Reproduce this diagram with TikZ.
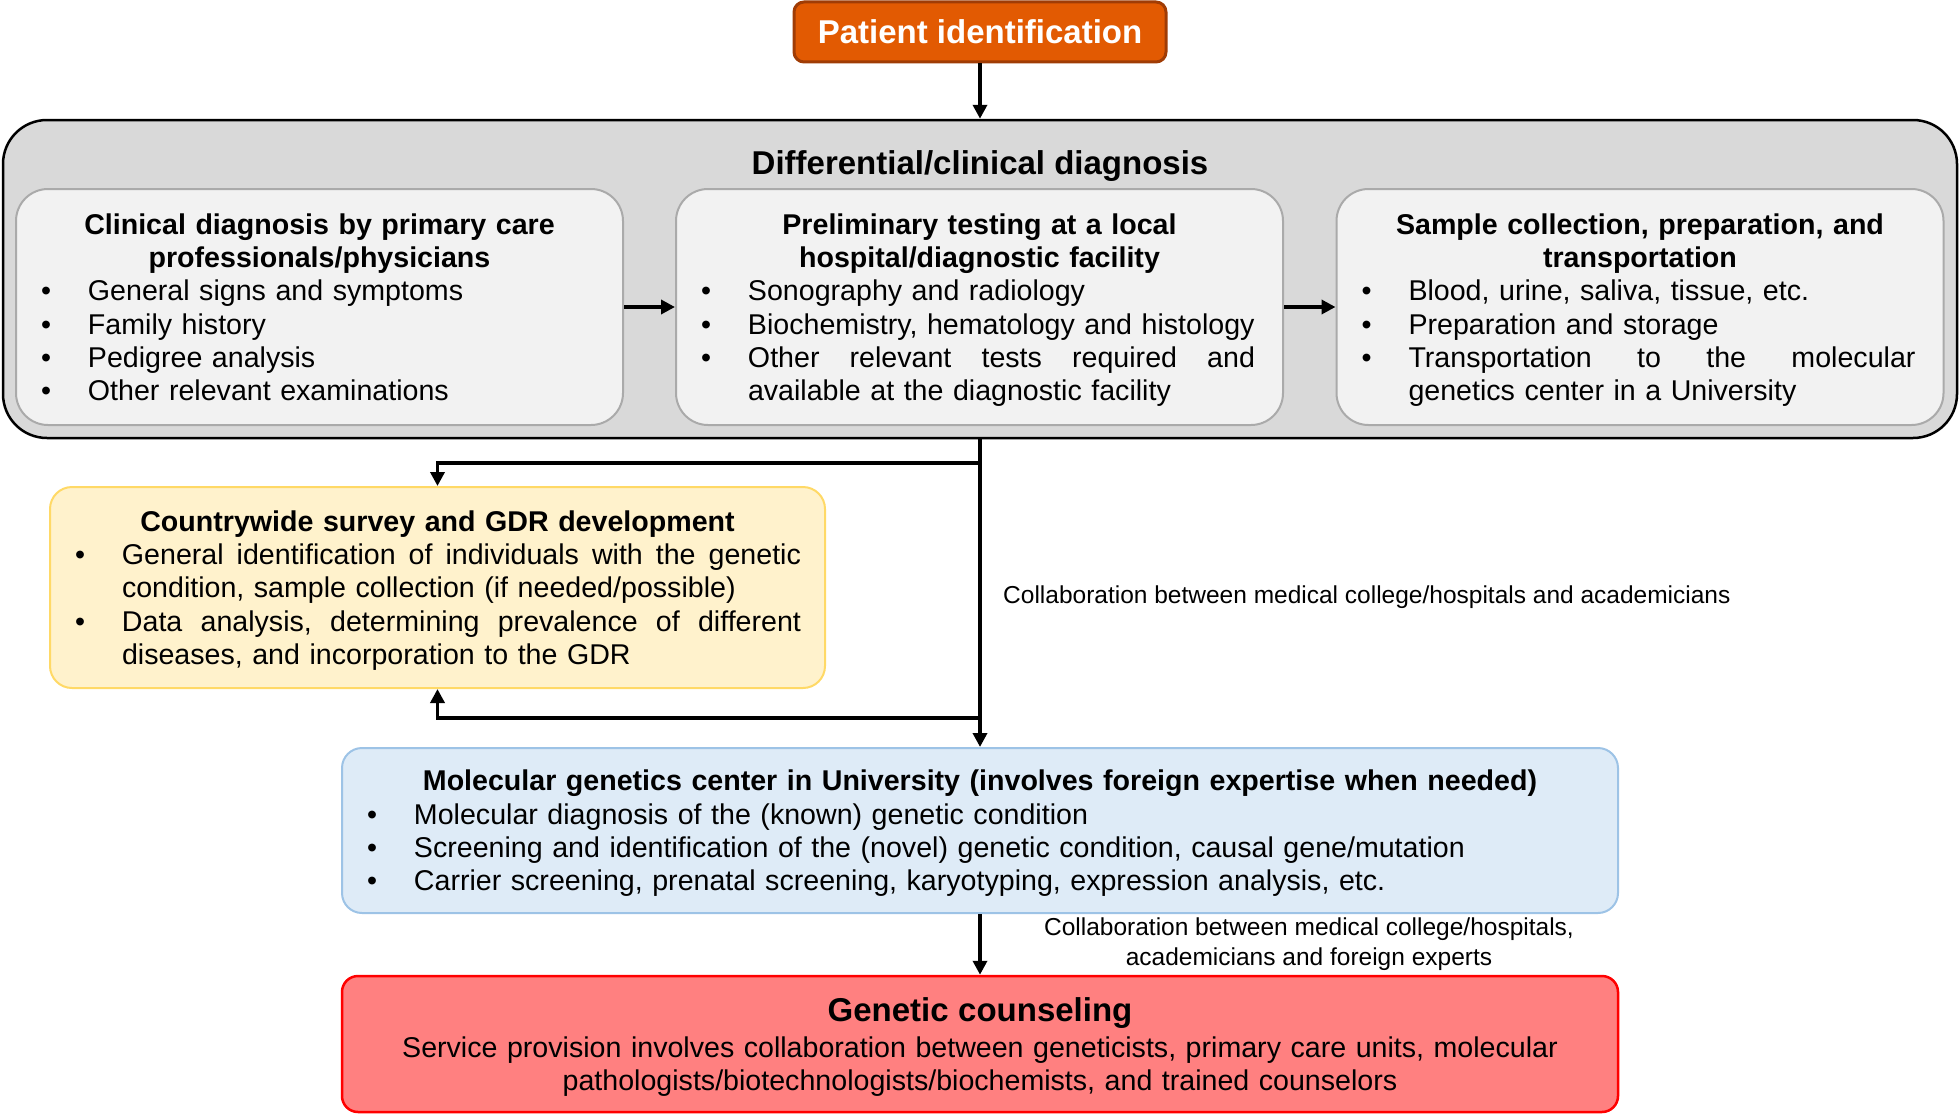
\documentclass[tikz,border=0pt]{standalone}
\usepackage{fontspec}
\setmainfont{Liberation Sans}
\usetikzlibrary{arrows.meta,calc}
\definecolor{orfill}{RGB}{226,90,2}
\definecolor{ordraw}{RGB}{160,60,5}
\definecolor{grayfill}{RGB}{217,217,217}
\definecolor{innfill}{RGB}{242,242,242}
\definecolor{inndraw}{RGB}{170,170,170}
\definecolor{yelfill}{RGB}{255,242,204}
\definecolor{yeldraw}{RGB}{255,217,102}
\definecolor{blufill}{RGB}{222,235,247}
\definecolor{bludraw}{RGB}{157,195,230}
\definecolor{redfill}{RGB}{255,128,128}
\definecolor{reddraw}{RGB}{255,0,0}
\newcommand\bodyfont{\fontsize{28.6}{33.3}\selectfont}
\newcommand\bigfont{\fontsize{33}{38}\selectfont}
\newcommand\lblfont{\fontsize{24.5}{30}\selectfont}
\newcommand\hd[1]{{\centering\bfseries #1\par}}
\newcommand\bitem[1]{\par\noindent\hangindent=44pt\hangafter=1\hbox to 44pt{\hspace{-3pt}\textbullet\hfil}#1\par}
\newcommand\jline[2]{\hbox to #1{#2}\newline}
\newcommand\fin{\par\kern-\prevdepth}
\tikzset{
  conn/.style={line width=3.7pt,-{Triangle[length=14pt,width=14pt]}},
  innerbox/.style={draw=inndraw,fill=innfill,line width=2pt,rounded corners=32pt,
    text width=551pt,inner xsep=28pt,inner ysep=0pt,minimum height=236pt,font=\bodyfont},
  lbl/.style={font=\lblfont,inner sep=0pt}
}
\begin{document}
\begin{tikzpicture}[x=1pt,y=-1pt]
\useasboundingbox (0,0) rectangle (1959,1116);
% Patient identification
\node[draw=ordraw,fill=orfill,line width=3pt,rounded corners=10pt,minimum width=372pt,
  minimum height=60pt,text=white,font=\bigfont\bfseries] (pat) at (980,32) {Patient identification};
% big gray box
\node[draw=black,fill=grayfill,line width=2.5pt,rounded corners=44pt,minimum width=1954pt,
  minimum height=318pt,inner sep=0pt] (gray) at (980,279) {};
\node[font=\bigfont\bfseries,inner sep=0pt] (title) at (980,166.5) {Differential/clinical diagnosis};
\node[innerbox] (b1) at (319.5,307) {%
  \hd{Clinical diagnosis by primary care\\professionals/physicians}%
  \bitem{\mbox{General signs and symptoms}}%
  \bitem{\mbox{Family history}}%
  \bitem{\mbox{Pedigree analysis}}%
  \bitem{\mbox{Other relevant examinations}}\fin};
\node[innerbox] (b2) at (979.5,307) {%
  \hd{Preliminary testing at a local\\hospital/diagnostic facility}%
  \bitem{\mbox{Sonography and radiology}}%
  \bitem{\mbox{Biochemistry, hematology and histology}}%
  \bitem{\jline{507pt}{Other\hfill relevant\hfill tests\hfill required\hfill and}available at the diagnostic facility}\fin};
\node[innerbox] (b3) at (1640,307) {%
  \hd{Sample collection, preparation, and\\transportation}%
  \bitem{\mbox{Blood, urine, saliva, tissue, etc.}}%
  \bitem{\mbox{Preparation and storage}}%
  \bitem{\jline{507pt}{Transportation\hfill to\hfill the\hfill molecular}genetics center in a University}\fin};
\draw[conn] (b1) -- (b2);
\draw[conn] (b2) -- (b3);
% yellow box
\node[draw=yeldraw,fill=yelfill,line width=2pt,rounded corners=22pt,text width=719pt,
  inner xsep=28pt,inner ysep=0pt,minimum height=201pt,font=\bodyfont] (yel) at (437.5,587.5) {%
  \hd{Countrywide survey and GDR development}%
  \bitem{\jline{679pt}{General\hfill identification\hfill of\hfill individuals\hfill with\hfill the\hfill genetic}condition, sample collection (if needed/possible)}%
  \bitem{\jline{679pt}{Data\hfill analysis,\hfill determining\hfill prevalence\hfill of\hfill different}diseases, and incorporation to the GDR}\fin};
% blue box
\node[draw=bludraw,fill=blufill,line width=2pt,rounded corners=20pt,text width=1220pt,
  inner xsep=28pt,inner ysep=0pt,minimum height=165pt,font=\bodyfont] (blu) at (980,830.5) {%
  \hd{Molecular genetics center in University (involves foreign expertise when needed)}%
  \bitem{\mbox{Molecular diagnosis of the (known) genetic condition}}%
  \bitem{\mbox{Screening and identification of the (novel) genetic condition, causal gene/mutation}}%
  \bitem{\mbox{Carrier screening, prenatal screening, karyotyping, expression analysis, etc.}}\fin};
% red box
\node[draw=reddraw,fill=redfill,line width=2.5pt,rounded corners=16pt,text width=1220pt,
  inner xsep=28pt,inner ysep=0pt,minimum height=136pt,font=\bodyfont] (red) at (980,1044) {%
  {\centering{\bigfont\bfseries Genetic counseling\par}\vspace{3pt}%
  Service provision involves collaboration between geneticists, primary care units, molecular\\
  pathologists/biotechnologists/biochemists, and trained counselors\par}\fin};
% connectors
\coordinate (j1) at (980,463);
\coordinate (j2) at (980,718);
\draw[conn] (pat) -- (gray);
\draw[conn] (gray.south) -- (blu.north);
\draw[conn] (j1) -| (yel.north);
\draw[conn] (j2) -| (yel.south);
\draw[conn] (blu) -- (red);
% labels
\node[lbl,anchor=west] (l1) at (1003,597) {Collaboration between medical college/hospitals and academicians};
\node[lbl,align=center] (l2) at (1309,944.5) {Collaboration between medical college/hospitals,\\academicians and foreign experts};
\end{tikzpicture}
\end{document}
